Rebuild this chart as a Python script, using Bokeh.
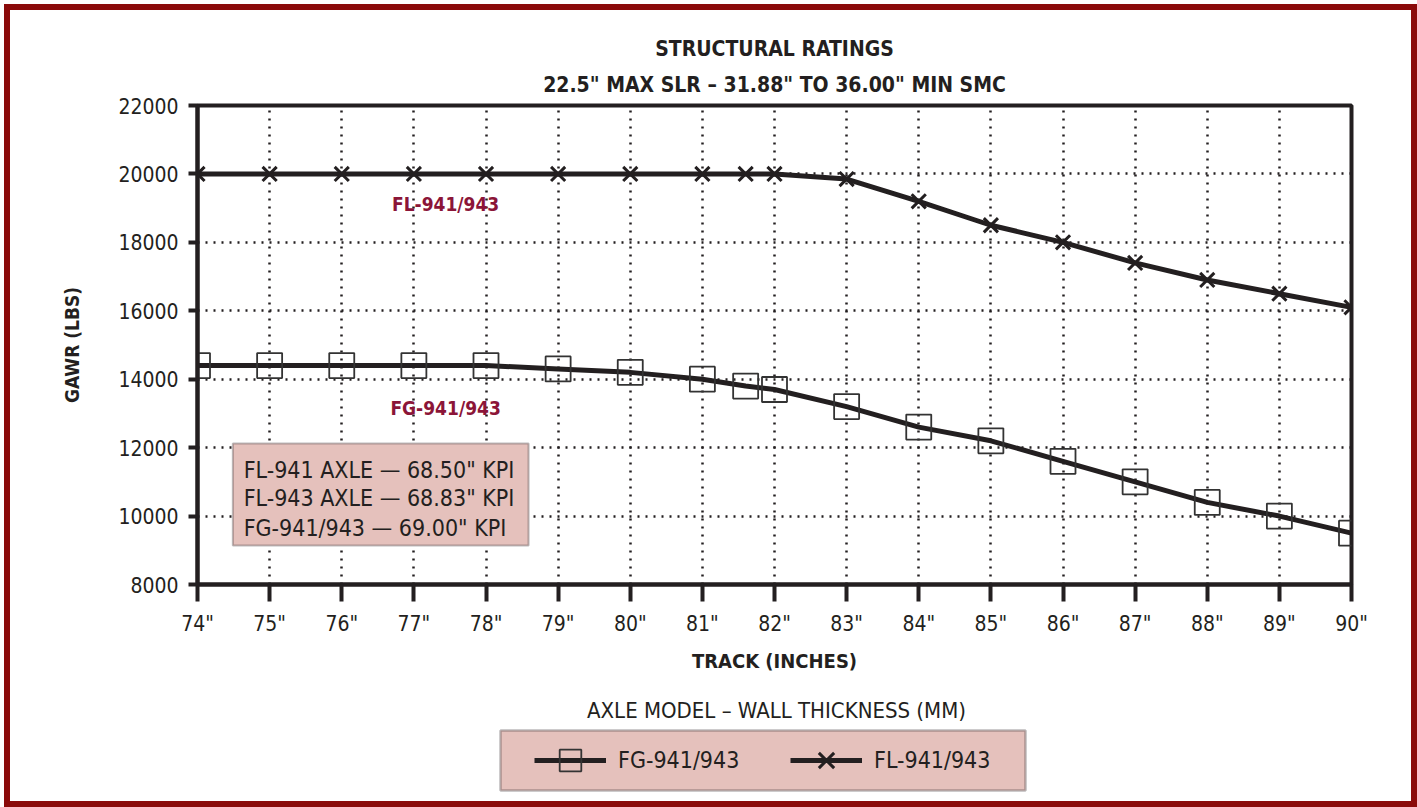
from bokeh.plotting import figure
from bokeh.layouts import column
from bokeh.models import (Range1d, FixedTicker, Title, Legend, LegendItem,
                          BoxAnnotation, Label)
from bokeh.embed import file_html
from bokeh.resources import INLINE

# ---- data ----
track = [74, 75, 76, 77, 78, 79, 80, 81, 81.6, 82, 83, 84, 85, 86, 87, 88, 89, 90]
fl_gawr = [20000, 20000, 20000, 20000, 20000, 20000, 20000, 20000, 20000, 20000,
           19850, 19200, 18500, 18000, 17400, 16900, 16500, 16100]
fg_gawr = [14400, 14400, 14400, 14400, 14400, 14300, 14200, 14000, 13800, 13700,
           13200, 12600, 12200, 11600, 11000, 10400, 10000, 9500]
x_ticks = [74, 75, 76, 77, 78, 79, 80, 81, 82, 83, 84, 85, 86, 87, 88, 89, 90]
x_tick_labels = ['74"', '75"', '76"', '77"', '78"', '79"', '80"', '81"', '82"',
                 '83"', '84"', '85"', '86"', '87"', '88"', '89"', '90"']
y_ticks = [8000, 10000, 12000, 14000, 16000, 18000, 20000, 22000]
kpi_notes = ['FL-941 AXLE \u2014 68.50" KPI',
             'FL-943 AXLE \u2014 68.83" KPI',
             'FG-941/943 \u2014 69.00" KPI']
series_names = ["FG-941/943", "FL-941/943"]
legend_title = "AXLE MODEL \u2013 WALL THICKNESS (MM)"

FONT = "DejaVu Sans Condensed"
INK = "#231f20"
PINK = "#e5c1bc"
MAROON = "#8b1538"
BL, BR = 187, 60   # side borders shared by both stacked figures

p = figure(width=1401, height=674, output_backend="svg", toolbar_location=None,
           x_range=Range1d(74, 90), y_range=Range1d(8000, 22000),
           min_border_left=BL, min_border_right=BR, min_border_top=95,
           min_border_bottom=100)
p.background_fill_color = "white"
p.border_fill_color = "white"
p.outline_line_color = INK
p.outline_line_width = 4

# titles
p.title.text = "STRUCTURAL RATINGS"
p.title.align = "center"
p.title.text_font = FONT
p.title.text_font_size = "21px"
p.title.text_font_style = "bold"
p.title.text_color = INK
p.title.standoff = 1
t2 = Title(text='22.5" MAX SLR \u2013 31.88" TO 36.00" MIN SMC', align="center",
           text_font=FONT, text_font_size="21px", text_font_style="bold",
           text_color=INK, standoff=18)
p.add_layout(t2, "above")

# axes
p.xaxis.ticker = FixedTicker(ticks=x_ticks)
p.xaxis.major_label_overrides = {t: l for t, l in zip(x_ticks, x_tick_labels)}
p.yaxis.ticker = FixedTicker(ticks=y_ticks)
for ax in (p.xaxis, p.yaxis):
    ax.axis_line_width = 4
    ax.axis_line_color = INK
    ax.major_tick_line_width = 4
    ax.major_tick_line_color = INK
    ax.major_tick_in = 0
    ax.minor_tick_line_color = None
    ax.major_label_text_font = FONT
    ax.major_label_text_font_size = "21px"
    ax.major_label_text_color = INK
    ax.axis_label_text_font = FONT
    ax.axis_label_text_font_size = "20px"
    ax.axis_label_text_font_style = "bold"
    ax.axis_label_text_color = INK
p.xaxis.major_tick_out = 17
p.yaxis.major_tick_out = 9
p.xaxis.major_label_standoff = 10
p.yaxis.major_label_standoff = 10
p.xaxis.axis_label = "TRACK (INCHES)"
p.xaxis.axis_label_standoff = 10
p.yaxis.axis_label = "GAWR (LBS)"
p.yaxis.axis_label_text_font_size = "19px"
p.yaxis.axis_label_standoff = 32

# grid
p.grid.grid_line_color = INK
p.grid.grid_line_width = 2.5
p.grid.grid_line_dash = "2 6"

# series
fg_line = p.line(track, fg_gawr, line_color=INK, line_width=5)
fg_sq = p.scatter(track, fg_gawr, marker="square", size=25, fill_color=None,
                  line_color="#333333", line_width=1.8)
fl_line = p.line(track, fl_gawr, line_color=INK, line_width=5)
fl_x = p.scatter(track, fl_gawr, marker="x", size=20, line_color=INK, line_width=3)

# in-plot labels
p.add_layout(Label(x=77.44, y=19130, text=series_names[1], text_align="center",
                   text_baseline="middle", text_font=FONT, text_font_size="19px",
                   text_font_style="bold", text_color=MAROON))
p.add_layout(Label(x=77.44, y=13170, text=series_names[0], text_align="center",
                   text_baseline="middle", text_font=FONT, text_font_size="19px",
                   text_font_style="bold", text_color=MAROON))

# KPI box
p.add_layout(BoxAnnotation(left=74.49, right=78.59, top=12120, bottom=9140,
                           fill_color=PINK, fill_alpha=1, line_color=INK,
                           line_width=2, level="overlay"))
for note, yy in zip(kpi_notes, [11357, 10538, 9661]):
    p.add_layout(Label(x=74.64, y=yy, text=note, text_align="left",
                       text_baseline="middle", text_font=FONT,
                       text_font_size="23px", text_color=INK, level="overlay"))

# ---- legend strip (second figure, same side borders so frames align) ----
p2 = figure(width=1401, height=117, output_backend="svg", toolbar_location=None,
            x_range=Range1d(0, 1154), y_range=Range1d(0, 117),
            x_axis_type=None, y_axis_type=None, title=None,
            min_border_left=BL, min_border_right=BR, min_border_top=0,
            min_border_bottom=0)
p2.grid.visible = False
p2.background_fill_color = "white"
p2.border_fill_color = "white"
p2.outline_line_color = None
p2.add_layout(Label(x=579, y=91, text=legend_title, text_align="center",
                    text_baseline="middle", text_font=FONT, text_font_size="22px",
                    text_color=INK))
p2.add_layout(BoxAnnotation(left=303, right=828, bottom=11, top=71,
                            fill_color=PINK, fill_alpha=1, line_color=INK,
                            line_width=2.5))
# legend glyph carriers: the real series, drawn outside this strip's range
g_fg_line = p2.line(track, fg_gawr, line_color=INK, line_width=5)
g_fg_sq = p2.scatter(track, fg_gawr, marker="square", size=25, fill_color=None,
                     line_color="#333333", line_width=1.8)
g_fl_line = p2.line(track, fl_gawr, line_color=INK, line_width=5)
g_fl_x = p2.scatter(track, fl_gawr, marker="x", size=20, line_color=INK, line_width=3)
legend = Legend(items=[LegendItem(label=series_names[0], renderers=[g_fg_line, g_fg_sq]),
                       LegendItem(label=series_names[1], renderers=[g_fl_line, g_fl_x])],
                orientation="horizontal", location=(337, 14),
                label_text_font=FONT, label_text_font_size="23px",
                label_text_color=INK, glyph_width=72, glyph_height=54,
                label_standoff=12, spacing=42, padding=0, margin=0,
                label_width=130, border_line_color=None,
                background_fill_alpha=0)
p2.add_layout(legend, "center")

page = column(p, p2, spacing=0,
              styles={"outline": "6px solid #8b0a0a", "margin": "10px 0 0 10px"})

open("out.html", "w").write(file_html(page, INLINE))
